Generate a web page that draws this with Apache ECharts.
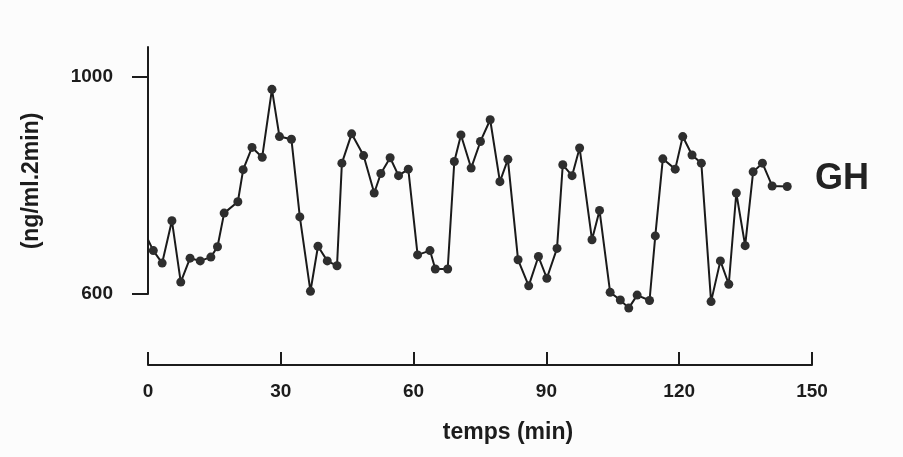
<!DOCTYPE html>
<html>
<head>
<meta charset="utf-8">
<title>GH</title>
<script src="https://cdn.jsdelivr.net/npm/echarts@6/dist/echarts.min.js"></script>
<style>
	html, body { margin: 0; padding: 0; background: #fcfcfc; }
	#main { width: 903px; height: 457px; }
</style>
</head>
<body>
<div id="main"></div>
<script>
// temps (min) et GH (ng/ml.2min)
var temps = [0, 1.2, 3.2, 5.4, 7.4, 9.5, 11.8, 14.2, 15.7, 17.2, 20.3, 21.5, 23.5, 25.8, 28.0, 29.7, 32.4, 34.3, 36.7, 38.4,
	40.5, 42.7, 43.8, 46.0, 48.7, 51.1, 52.6, 54.7, 56.6, 58.8, 60.9, 63.7, 64.9, 67.7, 69.2, 70.7, 73.0, 75.1, 77.3, 79.5,
	81.3, 83.6, 86.0, 88.2, 90.1, 92.4, 93.7, 95.8, 97.5, 100.3, 102.0, 104.4, 106.7, 108.6, 110.5, 113.3, 114.6, 116.3, 119.1, 120.8,
	122.9, 125.0, 127.2, 129.3, 131.2, 132.9, 134.9, 136.7, 138.8, 141.0, 144.4];
var gh = [700, 680, 657, 735, 622, 666, 661, 668, 687, 749, 770, 829, 870, 852, 977, 890, 885, 742, 605, 688,
	661, 652, 841, 895, 855, 786, 822, 851, 818, 830, 672, 680, 646, 646, 844, 893, 832, 881, 921, 807,
	848, 663, 615, 669, 629, 684, 838, 818, 869, 700, 754, 603, 589, 574, 598, 588, 707, 849, 830, 890,
	856, 841, 586, 661, 618, 786, 689, 825, 841, 799, 798];
var xTicks = [0, 30, 60, 90, 120, 150];
var yTicks = [600, 1000];

var myChart = echarts.init(document.getElementById('main'));

var points = [];
for (var i = 0; i < temps.length; i++) {
	var p = { value: [temps[i], gh[i]] };
	// le tracé part de l'axe sans point au départ
	if (i == 0) p.symbol = 'none';
	points.push(p);
}

var ink = '#1c1c1c';
var option = {
	backgroundColor: '#fcfcfc',
	animation: false,
	grid: { left: 148, right: 91, top: 47, bottom: 163 },
	xAxis: {
		type: 'value',
		min: 0,
		max: 150,
		interval: 30,
		offset: 71,
		splitLine: { show: false },
		axisLine: { lineStyle: { color: ink, width: 2 } },
		axisTick: { inside: true, length: 13, lineStyle: { color: ink, width: 2 }, customValues: xTicks },
		axisLabel: {
			customValues: xTicks,
			margin: 17,
			color: ink,
			fontFamily: 'Liberation Sans',
			fontWeight: 'bold',
			fontSize: 19
		}
	},
	yAxis: {
		type: 'value',
		min: 600,
		max: 1055,
		offset: 2,
		splitLine: { show: false },
		axisLine: { show: true, lineStyle: { color: ink, width: 2 } },
		axisTick: { show: true, length: 16, lineStyle: { color: ink, width: 2 }, customValues: yTicks },
		axisLabel: {
			customValues: yTicks,
			formatter: function(v) { return String(v); },
			margin: 33,
			color: ink,
			fontFamily: 'Liberation Sans',
			fontWeight: 'bold',
			fontSize: 19
		}
	},
	graphic: [
		{
			type: 'text', x: 32, y: 181, rotation: Math.PI / 2,
			style: { text: '(ng/ml.2min)', fill: ink, textAlign: 'center', textVerticalAlign: 'middle',
				font: 'bold 23px "Liberation Sans"' }
		},
		{
			type: 'text', x: 508, y: 433,
			style: { text: 'temps (min)', fill: ink, textAlign: 'center', textVerticalAlign: 'middle',
				font: 'bold 23px "Liberation Sans"' }
		},
		{
			type: 'text', x: 842, y: 179,
			style: { text: 'GH', fill: '#222', textAlign: 'center', textVerticalAlign: 'middle',
				font: 'bold 36px "Liberation Sans"' }
		}
	],
	series: [{
		name: 'GH',
		type: 'line',
		data: points,
		clip: false,
		symbol: 'circle',
		symbolSize: 9,
		itemStyle: { color: '#2e2e2e' },
		lineStyle: { color: '#1a1a1a', width: 2 }
	}]
};

myChart.setOption(option);
</script>
</body>
</html>
